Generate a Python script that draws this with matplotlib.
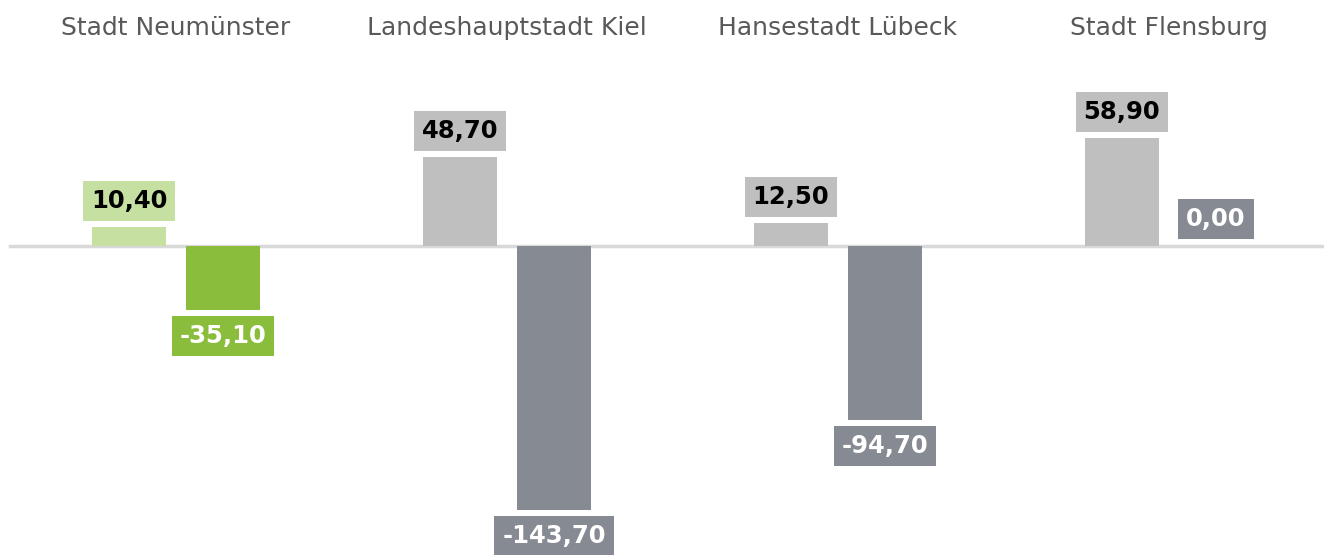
import matplotlib.pyplot as plt

# data
cities = ["Stadt Neumünster", "Landeshauptstadt Kiel", "Hansestadt Lübeck", "Stadt Flensburg"]
gains = [10.40, 48.70, 12.50, 58.90]
losses = [-35.10, -143.70, -94.70, 0.00]

light_colors = ["#c5e0a0", "#bfbfbf", "#bfbfbf", "#bfbfbf"]
dark_colors = ["#8abd3c", "#868a93", "#868a93", "#868a93"]

W, H = 1324, 555
fig = plt.figure(figsize=(W / 100, H / 100), dpi=100)
ax = fig.add_axes([0, 0, 1, 1])

px_per_unit = 1.835
zero_px = 246  # from top
ax.set_ylim(-(H - zero_px) / px_per_unit, zero_px / px_per_unit)
spacing = 331
ax.set_xlim(-176 / spacing, (W - 176) / spacing)
ax.axis("off")

width = 0.226
off = 0.142
xs = list(range(len(cities)))

ax.axhline(0, xmin=10 / W, xmax=1, color="#d9d9d9", lw=2.5, zorder=1)

def fmt(v):
    return f"{v:.2f}".replace(".", ",")

label_kw = dict(textcoords="offset points", ha="center", fontsize=17.5, fontweight="bold")

for i, x in enumerate(xs):
    ax.bar(x - off, gains[i], width, color=light_colors[i], zorder=2)
    ax.bar(x + off, losses[i], width, color=dark_colors[i], zorder=2)

    ax.annotate(fmt(gains[i]), (x - off, gains[i]), xytext=(0, 10), va="bottom",
                color="black", **label_kw,
                bbox=dict(boxstyle="square,pad=0.33", fc=light_colors[i], ec="none"))
    if losses[i] < 0:
        ax.annotate(fmt(losses[i]), (x + off, losses[i]), xytext=(0, -10), va="top",
                    color="white", **label_kw,
                    bbox=dict(boxstyle="square,pad=0.33", fc=dark_colors[i], ec="none"))
    else:
        # zero value: label sits just above the axis line
        ax.annotate(fmt(losses[i]), (x + off, 0), xytext=(0, 11), va="bottom",
                    color="white", **label_kw,
                    bbox=dict(boxstyle="square,pad=0.33", fc=dark_colors[i], ec="none"))

    ax.text(x, 1 - 28 / H, cities[i], transform=ax.get_xaxis_transform(),
            ha="center", va="center", fontsize=18, color="#595959")

fig.savefig("out.png", dpi=100)
